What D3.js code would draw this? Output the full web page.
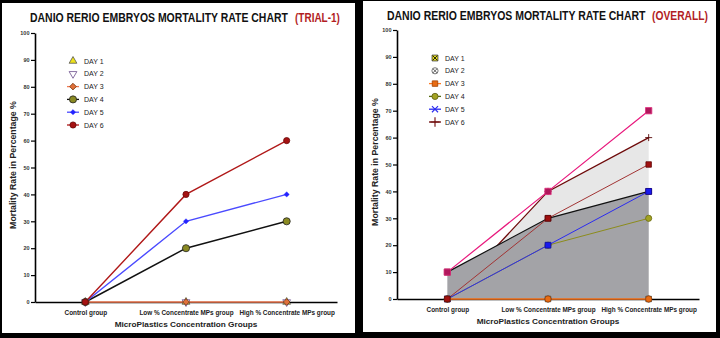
<!DOCTYPE html>
<html>
<head>
<meta charset="utf-8">
<script src="https://cdn.jsdelivr.net/npm/d3@7"></script>
<style>
  body { margin: 0; background: #000; }
  svg { display: block; }
  text { font-family: "Liberation Sans", Arial, sans-serif; }
</style>
</head>
<body>
<div id="chart"></div>
<script>
// ---- data ----
const categories = ["Control group", "Low % Concentrate MPs group", "High % Concentrate MPs group"];
const yTicks = [0, 10, 20, 30, 40, 50, 60, 70, 80, 90, 100];
const dayLabels = ["DAY 1", "DAY 2", "DAY 3", "DAY 4", "DAY 5", "DAY 6"];

// trial-1
const trialDay1 = [0, 0, 0];
const trialDay2 = [0, 0, 0];
const trialDay3 = [0, 0, 0];
const trialDay4 = [0, 20, 30];
const trialDay5 = [0, 30, 40];
const trialDay6 = [0, 40, 60];

// overall
const overallDay1 = [0, 0, 0];
const overallDay2 = [0, 0, 0];
const overallDay3 = [0, 0, 0];
const overallDay4 = [0, 20, 30];
const overallDay5 = [0, 20, 40];
const overallDay6 = [0, 40, 60];
const overallUpper = [10, 40, 70];
const overallMid = [0, 30, 50];
const overallLower = [10, 30, 40];

const svg = d3.select("#chart").append("svg")
    .attr("width", 720)
    .attr("height", 338);

svg.append("rect").attr("width", 720).attr("height", 338).attr("fill", "#000");
// white panels
svg.append("rect").attr("x", 2).attr("y", 3).attr("width", 353).attr("height", 330).attr("fill", "#fff");
svg.append("rect").attr("x", 363).attr("y", 1).attr("width", 353).attr("height", 331).attr("fill", "#fff");

const symX = d3.symbolTimes || d3.symbolCross;
const symPlus = d3.symbolPlus || d3.symbolCross;

// squeeze a text horizontally so it spans a given width
function fitText(sel, x, y, width, rotate) {
    const w = sel.node().getComputedTextLength();
    const sx = width / w;
    sel.attr("transform", "translate(" + x + "," + y + ")" + (rotate ? " rotate(" + rotate + ")" : "") + " scale(" + sx + ",1)");
}

function drawPanel(cfg) {
    const g = svg.append("g").attr("transform", "translate(" + cfg.dx + "," + cfg.dy + ")");
    const x = d3.scalePoint().domain(categories).range([35, 337]).padding(0.5);
    const y = d3.scaleLinear().domain([0, 100]).range([302, 33]);

    // title
    const t1 = g.append("text")
        .style("font-size", "12.5px").style("font-weight", "bold").attr("fill", "#111")
        .text("DANIO RERIO EMBRYOS MORTALITY RATE CHART");
    fitText(t1, cfg.titleX, cfg.titleY, cfg.titleLen);
    const t2 = g.append("text")
        .style("font-size", "12.5px").style("font-weight", "bold").attr("fill", "#b21d24")
        .text(cfg.suffix);
    fitText(t2, cfg.suffixX, cfg.titleY, cfg.suffixLen);

    // axis titles
    const xt = g.append("text")
        .attr("text-anchor", "middle")
        .style("font-size", "8px").style("font-weight", "bold").attr("fill", "#222")
        .text("MicroPlastics Concentration Groups");
    fitText(xt, 186, 327, 143);
    const yt = g.append("text")
        .attr("text-anchor", "middle")
        .style("font-size", "8.3px").style("font-weight", "bold").attr("fill", "#222")
        .text("Mortality Rate in Percentage %");
    fitText(yt, 16, 165, 128, -90);

    return {g: g, x: x, y: y};
}

function drawAxes(p) {
    const yAxisG = p.g.append("g").attr("transform", "translate(35,0)")
        .call(d3.axisLeft(p.y).tickValues(yTicks).tickSize(4).tickSizeOuter(0).tickPadding(1.5));
    yAxisG.select(".domain").attr("stroke", "#000").attr("stroke-width", 1.6);
    yAxisG.selectAll(".tick line").attr("stroke", "#000").attr("stroke-width", 1.2);
    yAxisG.selectAll(".tick text").style("font-size", "5.5px").style("font-weight", "bold")
        .attr("fill", "#333").style("font-family", "'Liberation Sans', Arial, sans-serif");

    const xAxisG = p.g.append("g").attr("transform", "translate(0,302)")
        .call(d3.axisBottom(p.x).tickSize(0).tickSizeOuter(0).tickPadding(8.5));
    xAxisG.select(".domain").attr("stroke", "#000").attr("stroke-width", 1.6);
    xAxisG.selectAll(".tick text").style("font-size", "6.4px").style("font-weight", "bold")
        .attr("fill", "#222").style("font-family", "'Liberation Sans', Arial, sans-serif");
}

function drawLine(p, values, color, width) {
    const line = d3.line()
        .x((d, i) => p.x(categories[i]))
        .y(d => p.y(d));
    p.g.append("path").datum(values)
        .attr("d", line)
        .attr("fill", "none")
        .attr("stroke", color)
        .attr("stroke-width", width);
}

function drawArea(p, values, color) {
    const area = d3.area()
        .x((d, i) => p.x(categories[i]))
        .y0(p.y(0))
        .y1(d => p.y(d));
    p.g.append("path").datum(values)
        .attr("d", area)
        .attr("fill", color);
}

function placeMarker(g, cx, cy, m) {
    const rot = m.rotate ? " rotate(" + m.rotate + ")" : "";
    const mg = g.append("g").attr("transform", "translate(" + cx + "," + cy + ")" + rot);
    mg.append("path")
        .attr("d", d3.symbol().type(m.type).size(m.size)())
        .attr("fill", m.fill)
        .attr("stroke", m.stroke || "none")
        .attr("stroke-width", m.sw || 0.8);
    if (m.inner) {
        mg.append("path")
            .attr("d", d3.symbol().type(symX).size(m.size * 0.45)())
            .attr("fill", "none")
            .attr("stroke", m.inner)
            .attr("stroke-width", 0.9);
    }
}

function drawMarkers(p, values, m) {
    values.forEach((v, i) => placeMarker(p.g, p.x(categories[i]), p.y(v), m));
}

function drawLegend(p, items, symX0, textX) {
    const ly = d3.scalePoint().domain(dayLabels).range([61, 125]);
    items.forEach((it, i) => {
        const cy = ly(dayLabels[i]);
        if (it.line) {
            p.g.append("line")
                .attr("x1", symX0 - 6).attr("x2", symX0 + 6)
                .attr("y1", cy).attr("y2", cy)
                .attr("stroke", it.line).attr("stroke-width", 1.3);
        }
        placeMarker(p.g, symX0, cy, it.marker);
        p.g.append("text")
            .attr("x", textX).attr("y", cy + 2.5)
            .style("font-size", "7px").attr("fill", "#222")
            .text(dayLabels[i]);
    });
}

// ---------------- left panel: TRIAL-1 ----------------
const left = drawPanel({dx: 0, dy: 0, titleX: 30, titleY: 22, titleLen: 258,
    suffix: "(TRIAL-1)", suffixX: 295, suffixLen: 45});
drawAxes(left);

const trialStyles = [
    {values: trialDay1, line: null, marker: {type: d3.symbolTriangle, size: 26, fill: "#eee21a", stroke: "#555"}},
    {values: trialDay2, line: null, marker: {type: d3.symbolTriangle, size: 26, fill: "#fff", stroke: "#6b4c8c", rotate: 180}},
    {values: trialDay3, line: "#f07a52", marker: {type: d3.symbolSquare, size: 22, fill: "#e0703a", stroke: "#7a3a10", rotate: 45}},
    {values: trialDay4, line: "#111", marker: {type: d3.symbolCircle, size: 40, fill: "#8a8a22", stroke: "#222"}},
    {values: trialDay5, line: "#4a4aff", marker: {type: d3.symbolSquare, size: 14, fill: "#2323ff", stroke: "#2323ff", sw: 0.4, rotate: 45}},
    {values: trialDay6, line: "#b01818", marker: {type: d3.symbolCircle, size: 30, fill: "#a51212", stroke: "#6a0a0a"}}
];
trialStyles.forEach(s => { if (s.line) drawLine(left, s.values, s.line, s.line === "#111" ? 1.5 : 1.4); });
trialStyles.forEach(s => drawMarkers(left, s.values, s.marker));
drawLegend(left, trialStyles, 73, 84);

// ---------------- right panel: OVERALL ----------------
const right = drawPanel({dx: 362, dy: -3, titleX: 25, titleY: 23, titleLen: 259,
    suffix: "(OVERALL)", suffixX: 290, suffixLen: 56});

drawArea(right, overallDay6, "#e7e7e7");
drawLine(right, overallDay6, "#6e0a0a", 1.3);
drawArea(right, overallLower, "#a3a3a7");
drawAxes(right);
drawLine(right, overallLower, "#111", 1.2);
drawLine(right, overallMid, "#a23434", 1);
drawLine(right, overallDay4, "#8c8c1c", 1);
drawLine(right, overallDay5, "#2b2bf0", 1);
drawLine(right, overallDay3, "#ff7a22", 1.4);
drawLine(right, overallUpper, "#e8187c", 1.2);

drawMarkers(right, overallLower, {type: d3.symbolSquare, size: 34, fill: "#a11a2a", stroke: "#5a0a10"});
drawMarkers(right, overallDay6, {type: symPlus, size: 18, fill: "none", stroke: "#5a0a0a", sw: 0.9});
drawMarkers(right, overallDay4, {type: d3.symbolCircle, size: 30, fill: "#a3a322", stroke: "#6a6a10"});
drawMarkers(right, overallDay5, {type: d3.symbolSquare, size: 34, fill: "#1a1aee", stroke: "#0a0aa0"});
drawMarkers(right, overallDay1, {type: d3.symbolSquare, size: 30, fill: "#e8e01a", stroke: "#333", inner: "#111"});
drawMarkers(right, overallDay2, {type: d3.symbolCircle, size: 30, fill: "#fff", stroke: "#555", inner: "#555"});
drawMarkers(right, overallDay3, {type: d3.symbolCircle, size: 30, fill: "#e86c14", stroke: "#a04000"});
drawMarkers(right, overallMid, {type: d3.symbolSquare, size: 30, fill: "#a01010", stroke: "#600808"});
drawMarkers(right, overallUpper, {type: d3.symbolSquare, size: 40, fill: "#b0185c", stroke: "#e0307e"});

const overallLegend = [
    {line: null, marker: {type: d3.symbolSquare, size: 34, fill: "#e8e01a", stroke: "#333", inner: "#111"}},
    {line: null, marker: {type: d3.symbolCircle, size: 30, fill: "#fff", stroke: "#555", inner: "#555"}},
    {line: "#ff7a22", marker: {type: d3.symbolSquare, size: 30, fill: "#e86c14", stroke: "#a04000"}},
    {line: "#556b10", marker: {type: d3.symbolCircle, size: 30, fill: "#a3a322", stroke: "#5a5a10"}},
    {line: "#2b2bf0", marker: {type: symX, size: 26, fill: "none", stroke: "#2b2bf0", sw: 1.1}},
    {line: "#6e0a0a", marker: {type: symPlus, size: 30, fill: "none", stroke: "#6e0a0a", sw: 1.1}}
];
drawLegend(right, overallLegend, 73, 83);
</script>
</body>
</html>
